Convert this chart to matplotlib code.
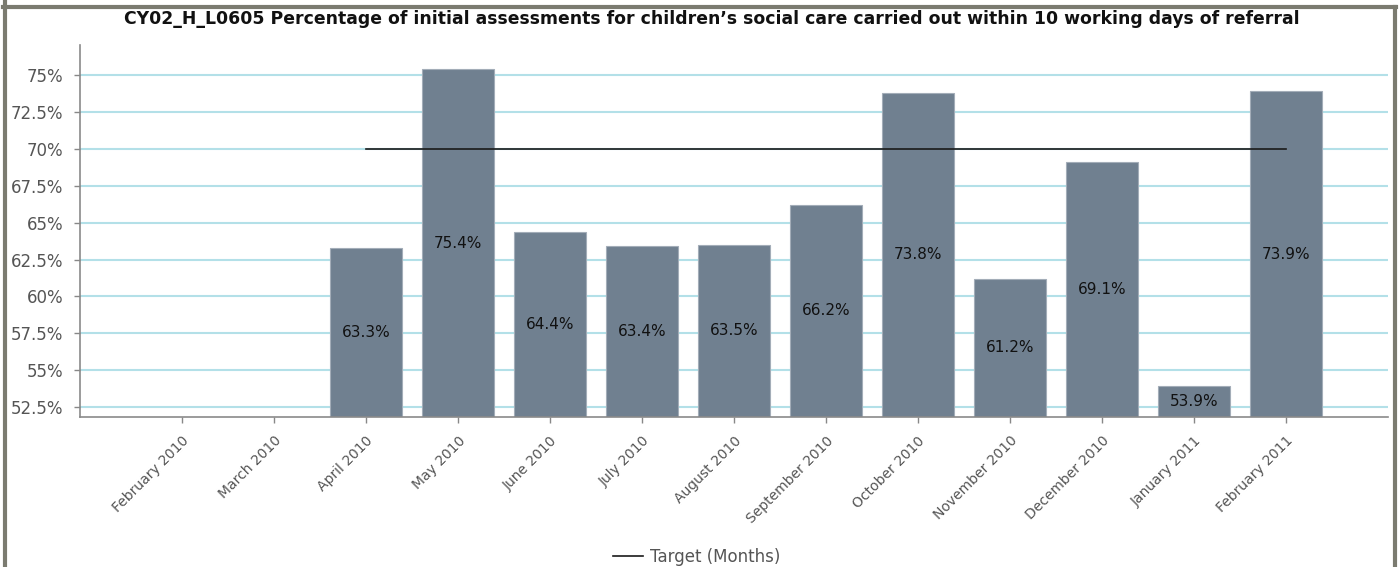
import numpy as np
import matplotlib
matplotlib.use('Agg')
import matplotlib.pyplot as plt
from matplotlib.lines import Line2D
from matplotlib.ticker import FixedLocator, FuncFormatter

# Datos
months = ['February 2010', 'March 2010', 'April 2010', 'May 2010', 'June 2010',
          'July 2010', 'August 2010', 'September 2010', 'October 2010',
          'November 2010', 'December 2010', 'January 2011', 'February 2011']
values = [None, None, 63.3, 75.4, 64.4, 63.4, 63.5, 66.2, 73.8, 61.2, 69.1, 53.9, 73.9]
target = [None, None, 70, 70, 70, 70, 70, 70, 70, 70, 70, 70, 70]
y_ticks = [52.5, 55, 57.5, 60, 62.5, 65, 67.5, 70, 72.5, 75]
title = ('CY02_H_L0605 Percentage of initial assessments for children\u2019s '
         'social care carried out within 10 working days of referral')

W, H = 1399, 567
fig = plt.figure(figsize=(W / 100, H / 100), dpi=100)
ax = fig.add_axes([80 / W, 1 - 417 / H, (1388 - 80) / W, (417 - 45) / H])

y_min, y_max = 51.82, 77.05
x = np.arange(len(months))

# Barras
for i, v in enumerate(values):
    if v is None:
        continue
    ax.bar(i, v, width=0.78, color='#708090', edgecolor='#a3adb8',
           linewidth=0.8, zorder=2)
    ax.text(i, (y_min + v) / 2, f'{v:.1f}%', ha='center', va='center',
            fontsize=11, color='#111111', zorder=4)

# Línea objetivo
tx = [i for i, t in enumerate(target) if t is not None]
ty = [t for t in target if t is not None]
ax.plot(tx, ty, color='#1a1a1a', linewidth=1.2, zorder=3)

ax.set_xlim(-1.11, 13.11)
ax.set_ylim(y_min, y_max)
ax.yaxis.set_major_locator(FixedLocator(y_ticks))
ax.yaxis.set_major_formatter(FuncFormatter(lambda v, p: f'{v:g}%'))
ax.grid(axis='y', color='#b3e0e8', linewidth=1.5, zorder=0)
ax.set_axisbelow(True)

ax.set_xticks(x)
ax.set_xticklabels(months, rotation=45, ha='right', va='top',
                   rotation_mode='anchor', fontsize=10, color='#555555')
ax.tick_params(axis='y', labelsize=12, labelcolor='#555555', color='#888888',
               length=4, width=1, pad=8)
ax.tick_params(axis='x', color='#888888', length=4, width=1, pad=8)

for s in ['top', 'right']:
    ax.spines[s].set_visible(False)
for s in ['left', 'bottom']:
    ax.spines[s].set_color('#8a8a8a')
    ax.spines[s].set_linewidth(1.2)

# Título
fig.text(0.5 * (130 + 1293) / W, 1 - 19 / H, title, ha='center', va='center',
         fontsize=12.4, fontweight='bold', color='#111111')

# Leyenda
handle = Line2D([], [], color='#1a1a1a', linewidth=1.2)
fig.legend([handle], ['Target (Months)'], loc='center',
           bbox_to_anchor=(697 / W, 1 - 557 / H), frameon=False,
           fontsize=12, labelcolor='#555555', handlelength=1.8,
           handletextpad=0.4)

# Marco
frame = '#7b7b70'
fig.add_artist(Line2D([4.5 / W, 4.5 / W], [0, 1], color=frame, linewidth=3,
                      transform=fig.transFigure))
fig.add_artist(Line2D([3 / W, 1396 / W], [1 - 6.5 / H, 1 - 6.5 / H], color=frame,
                      linewidth=3, transform=fig.transFigure))
fig.add_artist(Line2D([1394.5 / W, 1394.5 / W], [0, 1 - 6.5 / H], color=frame,
                      linewidth=3, transform=fig.transFigure))

plt.savefig('out.png', dpi=100)
